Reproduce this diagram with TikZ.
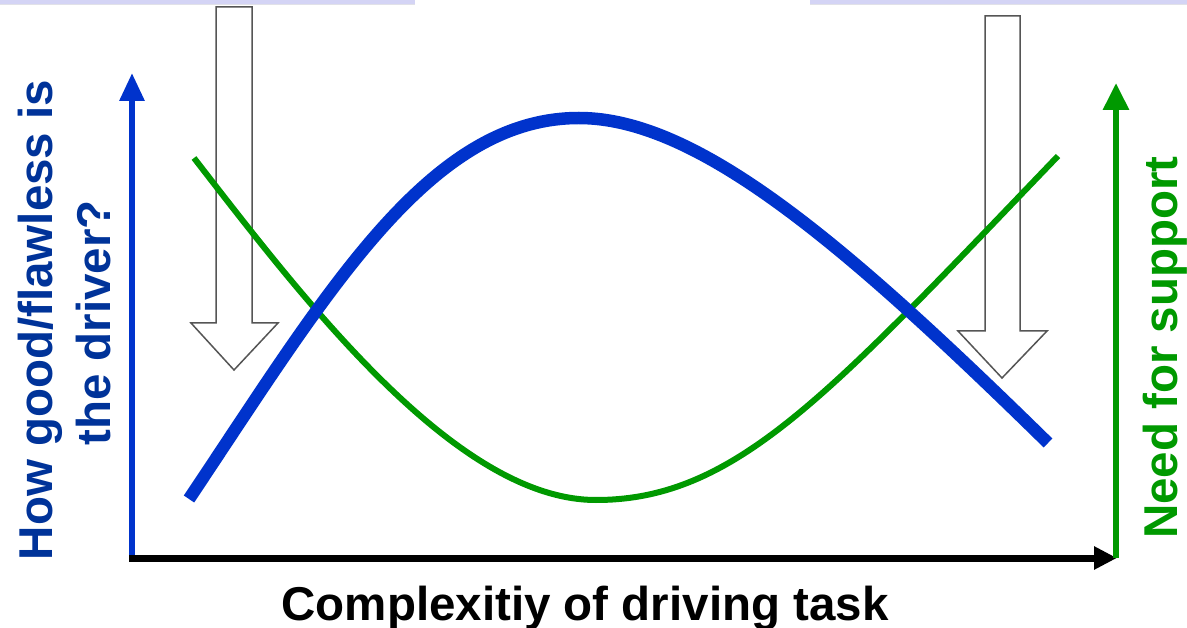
\documentclass[tikz,border=0pt]{standalone}
\usepackage{fontspec}
\setmainfont{Liberation Sans}
\usetikzlibrary{arrows.meta}
\definecolor{lineblue}{HTML}{0033CC}
\definecolor{textblue}{HTML}{003399}
\definecolor{grn}{HTML}{009900}
\definecolor{barfill}{RGB}{212,212,245}
\definecolor{barline}{RGB}{225,225,232}
\definecolor{arrowgray}{RGB}{85,85,85}
\begin{document}
\begin{tikzpicture}[x=1pt,y=-1pt,
  blockarrow/.style={draw=arrowgray, line width=1.5pt, fill=white, line join=miter},
  axislab/.style={font=\fontsize{47.5}{57}\selectfont\bfseries, inner sep=0pt, anchor=base, rotate=90},
  xlab/.style={font=\fontsize{47.5}{57}\selectfont\bfseries, inner sep=0pt, anchor=base},
  topbar/.style={fill=barfill, draw=none},
  curveline/.style={line cap=butt, line join=round}
]
\useasboundingbox (0,0) rectangle (1187,628);
\fill[white] (0,0) rectangle (1187,628);

% top bars
\fill[topbar] (0,0) rectangle (415,4.5);
\draw[barline, line width=1pt] (0,5) -- (415,5);
\fill[topbar] (810,0) rectangle (1187,4.5);
\draw[barline, line width=1pt] (810,5) -- (1187,5);

% block arrows
\draw[blockarrow] (216,7) -- (252,7) -- (252,323) -- (278,323) -- (234,370) -- (191,323) -- (216,323) -- cycle;
\draw[blockarrow] (985,16) -- (1020,16) -- (1020,331) -- (1047,331) -- (1002,378) -- (958,331) -- (985,331) -- cycle;

% coordinates for axes
\coordinate (origin) at (132,558);
\coordinate (ytop) at (132,73);
\coordinate (xstart) at (129,558);
\coordinate (xend) at (1117,558);
\coordinate (gbottom) at (1116,558);
\coordinate (gtop) at (1116,83);

% axes
\draw[lineblue, line width=6pt, -{Triangle[length=28pt,width=24pt]}] (origin) -- (ytop);
\draw[black, line width=7pt, -{Triangle[length=23pt,width=22pt]}] (xstart) -- (xend);
\draw[grn, line width=6pt, -{Triangle[length=27pt,width=25pt]}] (gbottom) -- (gtop);

% curve end points
\coordinate (gstart) at (194,158);
\coordinate (gmin) at (596,500);
\coordinate (gend) at (1058,156);
\coordinate (bstart) at (189,499);
\coordinate (bmax) at (579,118);
\coordinate (bend) at (1048,443);

% curves
\draw[grn, line width=6pt, curveline] (gstart) .. controls (304,300) and (456,500) .. (gmin)
  .. controls (736,500) and (829,394.4) .. (gend);
\draw[lineblue, line width=12.5pt, curveline] (bstart) .. controls (328,291) and (429,118) .. (bmax)
  .. controls (699,118) and (848,247) .. (bend);

% labels
\node[axislab, text=textblue] (ylab1) at (52,320) {How good/flawless is};
\node[axislab, text=textblue] (ylab2) at (110,323) {the driver?};
\node[axislab, text=grn] (glab) at (1177,347.5) {Need for support};
\node[xlab, text=black] (xlab) at (585,620) {Complexitiy of driving task};
\end{tikzpicture}
\end{document}
